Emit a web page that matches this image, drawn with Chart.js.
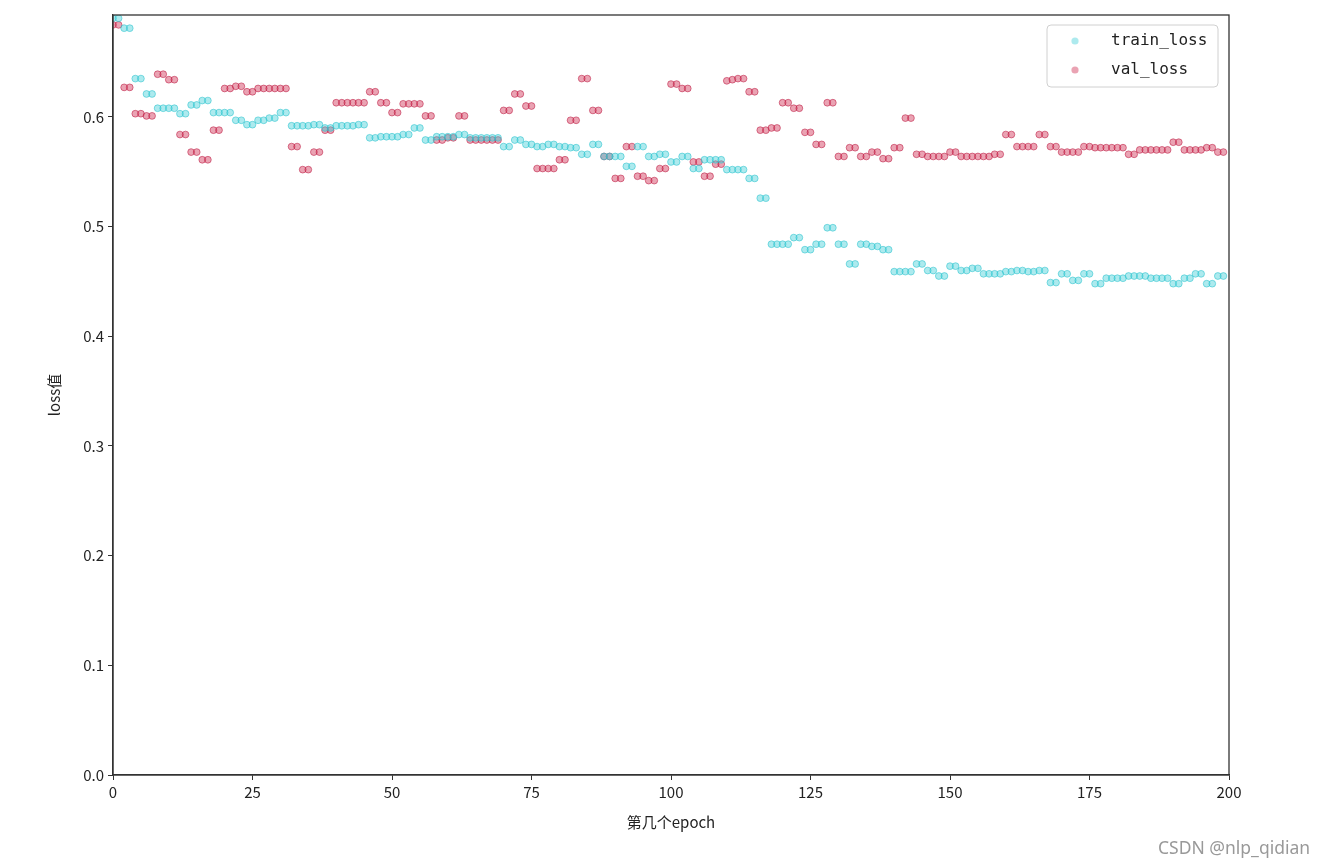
<!DOCTYPE html>
<html>
<head>
<meta charset="utf-8">
<title>loss</title>
<script src="https://cdn.jsdelivr.net/npm/chart.js@4.4.1/dist/chart.umd.min.js"></script>
<style>
    html, body { margin: 0; padding: 0; background: #fff; }
    #wrap { position: relative; width: 1336px; height: 866px; }
    #mark { position: absolute; left: 1158px; top: 835px; font: 17.5px "Noto Sans", sans-serif; color: #999; }
</style>
</head>
<body>
<div id="wrap">
    <canvas id="myChart" width="1336" height="866"></canvas>
    <div id="mark">CSDN @nlp_qidian</div>
</div>
<script>
// values, one per epoch
const trainLoss = [
    0.690, 0.690, 0.681, 0.681, 0.635, 0.635, 0.621, 0.621, 0.608, 0.608,
    0.608, 0.608, 0.603, 0.603, 0.611, 0.611, 0.615, 0.615, 0.604, 0.604,
    0.604, 0.604, 0.597, 0.597, 0.593, 0.593, 0.597, 0.597, 0.599, 0.599,
    0.604, 0.604, 0.592, 0.592, 0.592, 0.592, 0.593, 0.593, 0.590, 0.590,
    0.592, 0.592, 0.592, 0.592, 0.593, 0.593, 0.581, 0.581, 0.582, 0.582,
    0.582, 0.582, 0.584, 0.584, 0.590, 0.590, 0.579, 0.579, 0.582, 0.582,
    0.582, 0.582, 0.584, 0.584, 0.581, 0.581, 0.581, 0.581, 0.581, 0.581,
    0.573, 0.573, 0.579, 0.579, 0.575, 0.575, 0.573, 0.573, 0.575, 0.575,
    0.573, 0.573, 0.572, 0.572, 0.566, 0.566, 0.575, 0.575, 0.564, 0.564,
    0.564, 0.564, 0.555, 0.555, 0.573, 0.573, 0.564, 0.564, 0.566, 0.566,
    0.559, 0.559, 0.564, 0.564, 0.553, 0.553, 0.561, 0.561, 0.561, 0.561,
    0.552, 0.552, 0.552, 0.552, 0.544, 0.544, 0.526, 0.526, 0.484, 0.484,
    0.484, 0.484, 0.490, 0.490, 0.479, 0.479, 0.484, 0.484, 0.499, 0.499,
    0.484, 0.484, 0.466, 0.466, 0.484, 0.484, 0.482, 0.482, 0.479, 0.479,
    0.459, 0.459, 0.459, 0.459, 0.466, 0.466, 0.460, 0.460, 0.455, 0.455,
    0.464, 0.464, 0.460, 0.460, 0.462, 0.462, 0.457, 0.457, 0.457, 0.457,
    0.459, 0.459, 0.460, 0.460, 0.459, 0.459, 0.460, 0.460, 0.449, 0.449,
    0.457, 0.457, 0.451, 0.451, 0.457, 0.457, 0.448, 0.448, 0.453, 0.453,
    0.453, 0.453, 0.455, 0.455, 0.455, 0.455, 0.453, 0.453, 0.453, 0.453,
    0.448, 0.448, 0.453, 0.453, 0.457, 0.457, 0.448, 0.448, 0.455, 0.455
];
const valLoss = [
    0.684, 0.684, 0.627, 0.627, 0.603, 0.603, 0.601, 0.601, 0.639, 0.639,
    0.634, 0.634, 0.584, 0.584, 0.568, 0.568, 0.561, 0.561, 0.588, 0.588,
    0.626, 0.626, 0.628, 0.628, 0.623, 0.623, 0.626, 0.626, 0.626, 0.626,
    0.626, 0.626, 0.573, 0.573, 0.552, 0.552, 0.568, 0.568, 0.588, 0.588,
    0.613, 0.613, 0.613, 0.613, 0.613, 0.613, 0.623, 0.623, 0.613, 0.613,
    0.604, 0.604, 0.612, 0.612, 0.612, 0.612, 0.601, 0.601, 0.579, 0.579,
    0.581, 0.581, 0.601, 0.601, 0.579, 0.579, 0.579, 0.579, 0.579, 0.579,
    0.606, 0.606, 0.621, 0.621, 0.610, 0.610, 0.553, 0.553, 0.553, 0.553,
    0.561, 0.561, 0.597, 0.597, 0.635, 0.635, 0.606, 0.606, 0.564, 0.564,
    0.544, 0.544, 0.573, 0.573, 0.546, 0.546, 0.542, 0.542, 0.553, 0.553,
    0.630, 0.630, 0.626, 0.626, 0.559, 0.559, 0.546, 0.546, 0.557, 0.557,
    0.633, 0.634, 0.635, 0.635, 0.623, 0.623, 0.588, 0.588, 0.590, 0.590,
    0.613, 0.613, 0.608, 0.608, 0.586, 0.586, 0.575, 0.575, 0.613, 0.613,
    0.564, 0.564, 0.572, 0.572, 0.564, 0.564, 0.568, 0.568, 0.562, 0.562,
    0.572, 0.572, 0.599, 0.599, 0.566, 0.566, 0.564, 0.564, 0.564, 0.564,
    0.568, 0.568, 0.564, 0.564, 0.564, 0.564, 0.564, 0.564, 0.566, 0.566,
    0.584, 0.584, 0.573, 0.573, 0.573, 0.573, 0.584, 0.584, 0.573, 0.573,
    0.568, 0.568, 0.568, 0.568, 0.573, 0.573, 0.572, 0.572, 0.572, 0.572,
    0.572, 0.572, 0.566, 0.566, 0.570, 0.570, 0.570, 0.570, 0.570, 0.570,
    0.577, 0.577, 0.570, 0.570, 0.570, 0.570, 0.572, 0.572, 0.568, 0.568
];
const xTicks = [0, 25, 50, 75, 100, 125, 150, 175, 200];
const yTicks = [0.0, 0.1, 0.2, 0.3, 0.4, 0.5, 0.6];
const seriesNames = ['train_loss', 'val_loss'];

const trainColor = 'rgba(60, 205, 215, 0.42)';
const valColor = 'rgba(205, 35, 75, 0.42)';

function toPoints(arr) {
    return arr.map(function(v, i) { return { x: i, y: v }; });
}

// frame on all four sides + legend box inside the plot
const framePlugin = {
    id: 'frame',
    afterDraw: function(chart) {
        const c = chart.ctx, a = chart.chartArea;
        c.save();
        c.strokeStyle = '#333';
        c.lineWidth = 1.3;
        c.strokeRect(a.left, a.top, a.right - a.left, a.bottom - a.top);

        // legend
        const bx = 1047, by = 25, bw = 171, bh = 62;
        c.fillStyle = 'rgba(255,255,255,0.8)';
        c.strokeStyle = '#d0d0d0';
        c.lineWidth = 1;
        c.beginPath();
        c.roundRect(bx, by, bw, bh, 4);
        c.fill();
        c.stroke();
        const cols = [trainColor, valColor];
        c.font = '16px "DejaVu Sans Mono", monospace';
        c.textBaseline = 'middle';
        for (let i = 0; i < seriesNames.length; i++) {
            const yy = by + 16 + i * 29;
            c.fillStyle = cols[i];
            c.beginPath();
            c.arc(bx + 28, yy, 3.6, 0, Math.PI * 2);
            c.fill();
            c.fillStyle = '#222';
            c.fillText(seriesNames[i], bx + 64, yy);
        }
        c.restore();
    }
};

const ctx = document.getElementById('myChart').getContext('2d');
const myChart = new Chart(ctx, {
    type: 'scatter',
    data: {
        datasets: [{
            label: seriesNames[0],
            data: toPoints(trainLoss),
            backgroundColor: trainColor,
            borderColor: 'rgba(40, 195, 205, 0.55)',
            borderWidth: 1,
            pointRadius: 3.4
        }, {
            label: seriesNames[1],
            data: toPoints(valLoss),
            backgroundColor: valColor,
            borderColor: 'rgba(190, 25, 65, 0.55)',
            borderWidth: 1,
            pointRadius: 3.4
        }]
    },
    options: {
        responsive: false,
        animation: false,
        layout: { padding: { left: 45, top: 15, right: 107, bottom: 31 } },
        plugins: {
            legend: { display: false },
            tooltip: { enabled: false }
        },
        scales: {
            x: {
                type: 'linear',
                min: 0,
                max: 200,
                afterBuildTicks: function(s) { s.ticks = xTicks.map(function(v) { return { value: v }; }); },
                afterFit: function(s) { s.height = 60; },
                grid: { drawOnChartArea: false, drawTicks: true, tickLength: 5, color: '#333' },
                border: { color: '#333', width: 1.3 },
                ticks: { color: '#222', padding: 3, maxRotation: 0,
                    font: { family: '"Noto Sans CJK SC"', size: 15 } },
                title: { display: true, text: '第几个epoch', color: '#222',
                    font: { family: '"Noto Sans CJK SC"', size: 15 }, padding: { top: 0, bottom: 4 } }
            },
            y: {
                min: 0,
                max: 0.693,
                afterBuildTicks: function(s) { s.ticks = yTicks.map(function(v) { return { value: v }; }); },
                afterFit: function(s) { s.width = 68; },
                grid: { drawOnChartArea: false, drawTicks: true, tickLength: 5, color: '#333' },
                border: { color: '#333', width: 1.3 },
                ticks: { color: '#222', padding: 4,
                    font: { family: '"Noto Sans CJK SC"', size: 15 },
                    callback: function(v) { return v.toFixed(1); } },
                title: { display: true, text: 'loss值', color: '#222',
                    font: { family: '"Noto Sans CJK SC"', size: 15 }, padding: { top: 0, bottom: 2 } }
            }
        }
    },
    plugins: [framePlugin]
});
</script>
</body>
</html>
